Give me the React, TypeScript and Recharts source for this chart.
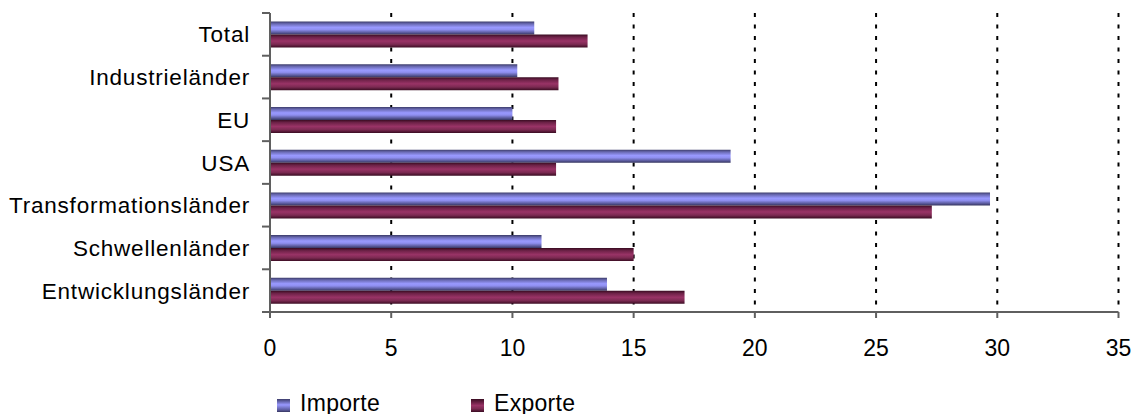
import { Bar, BarChart, CartesianGrid, XAxis, YAxis } from "recharts";

const categories = [
  "Total",
  "Industrieländer",
  "EU",
  "USA",
  "Transformationsländer",
  "Schwellenländer",
  "Entwicklungsländer",
];
const importe = [10.9, 10.2, 10.0, 19.0, 29.7, 11.2, 13.9];
const exporte = [13.1, 11.9, 11.8, 11.8, 27.3, 15.0, 17.1];
const xTicks = [0, 5, 10, 15, 20, 25, 30, 35];

const data = categories.map((name, i) => ({ name, importe: importe[i], exporte: exporte[i] }));

const W = 1136;
const H = 414;
const TOP = 13;
const AXIS_Y = 312;
const BAND = (AXIS_Y - TOP) / categories.length;
const FONT = '"Liberation Sans", Arial, sans-serif';
const AXIS = "#5f5f5f";

// x here is the axis position minus tickSize + tickMargin (8px)
function CategoryTick({ x, y, payload, index }: any) {
  const last = index === categories.length - 1;
  return (
    <g>
      <line x1={x} x2={x + 8} y1={y - BAND / 2} y2={y - BAND / 2} stroke={AXIS} strokeWidth={2} />
      {last ? (
        <line x1={x} x2={x + 8} y1={y + BAND / 2} y2={y + BAND / 2} stroke={AXIS} strokeWidth={2} />
      ) : null}
      <text
        x={x - 12}
        y={y}
        dy="0.36em"
        textAnchor="end"
        fill="#000"
        fontSize={22.5}
        letterSpacing={0.8}
        fontFamily={FONT}
      >
        {payload.value}
      </text>
    </g>
  );
}

function LegendItem({ label, grad, left }: { label: string; grad: string; left: number }) {
  return (
    <>
      <div
        style={{
          position: "absolute",
          left,
          top: 399,
          width: 13,
          height: 13,
          background: grad,
        }}
      />
      <div
        style={{
          position: "absolute",
          left: left + 23,
          top: 390,
          fontFamily: FONT,
          fontSize: 23,
          lineHeight: "26px",
          letterSpacing: 0.3,
          color: "#000",
        }}
      >
        {label}
      </div>
    </>
  );
}

export default function App() {
  return (
    <div style={{ position: "absolute", left: 0, top: 0, width: W, height: H, background: "#fff" }}>
      <BarChart
        width={W}
        height={H}
        data={data}
        layout="vertical"
        margin={{ top: TOP, right: 17.5, bottom: 0, left: 0 }}
        barCategoryGap="20%"
        barGap={0}
      >
        <defs>
          <linearGradient id="gImp" x1="0" y1="0" x2="0" y2="1">
            <stop offset="0" stopColor="#3c3c6a" />
            <stop offset="0.18" stopColor="#6a6ab4" />
            <stop offset="0.45" stopColor="#9999ff" />
            <stop offset="0.62" stopColor="#8f8ff0" />
            <stop offset="0.85" stopColor="#5a5a9c" />
            <stop offset="1" stopColor="#35355f" />
          </linearGradient>
          <linearGradient id="gExp" x1="0" y1="0" x2="0" y2="1">
            <stop offset="0" stopColor="#3a0c22" />
            <stop offset="0.2" stopColor="#6e2248" />
            <stop offset="0.5" stopColor="#993366" />
            <stop offset="0.75" stopColor="#7c2a52" />
            <stop offset="1" stopColor="#3a0c22" />
          </linearGradient>
        </defs>
        <CartesianGrid
          horizontal={false}
          stroke="#000"
          strokeWidth={2}
          strokeDasharray="4 7.5"
        />
        <XAxis
          type="number"
          domain={[0, 35]}
          ticks={xTicks}
          interval={0}
          height={H - AXIS_Y}
          stroke={AXIS}
          axisLine={{ stroke: AXIS, strokeWidth: 2 }}
          tickLine={{ stroke: AXIS, strokeWidth: 2 }}
          tickSize={6}
          tickMargin={22}
          tick={{ fill: "#000", fontSize: 23, fontFamily: FONT }}
        />
        <YAxis
          type="category"
          dataKey="name"
          width={270}
          axisLine={{ stroke: AXIS, strokeWidth: 2 }}
          tickLine={false}
          interval={0}
          tick={<CategoryTick />}
        />
        <Bar dataKey="importe" fill="url(#gImp)" isAnimationActive={false} />
        <Bar dataKey="exporte" fill="url(#gExp)" isAnimationActive={false} />
      </BarChart>
      <LegendItem
        label="Importe"
        left={277}
        grad="linear-gradient(to bottom, #3c3c6a, #9999ff 45%, #5a5a9c 85%, #35355f)"
      />
      <LegendItem
        label="Exporte"
        left={471}
        grad="linear-gradient(to bottom, #3a0c22, #993366 50%, #7c2a52 75%, #3a0c22)"
      />
    </div>
  );
}
